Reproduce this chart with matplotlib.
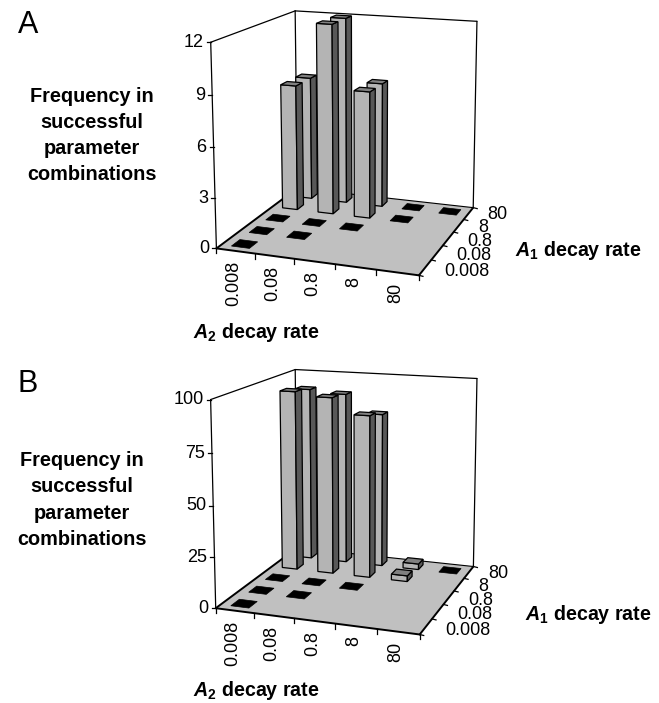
'''
Two 3D style bar charts of parameter
combination frequencies, drawn with a
projection from (A2,A1,height) to the page
'''

######################################

import numpy as np
import matplotlib
matplotlib.use('Agg')
import matplotlib.pyplot as plt
from matplotlib.patches import Polygon

######################################

nan=np.nan

decayLabels=['0.008','0.08','0.8','8','80']

# rows are A2 decay rate, columns A1 decay rate, nan means no bar
freqA=[[0,0,0,8,8],
       [nan,0,0,12,12],
       [nan,nan,0,8,8],
       [nan,nan,nan,0,0],
       [nan,nan,nan,nan,0]]
ticksA=[0,3,6,9,12]

freqB=[[0,0,0,94,92],
       [nan,0,0,92,90.5],
       [nan,nan,0,84,81],
       [nan,nan,nan,3,3],
       [nan,nan,nan,nan,0]]
ticksB=[0,25,50,75,100]

# where the corners of the box land on the page (pixels)
cornersA={(0,0,0):(217.7,248.3),(5,0,0):(418.3,276.0),(5,5,0):(474.0,206.7),(0,5,0):(296.0,188.5),
          (0,0,1):(210.0,41.7),(0,5,1):(296.0,11.0),(5,5,1):(476.7,21.7)}
cornersB={(0,0,0):(216.7,607.3),(5,0,0):(419.3,635.7),(5,5,0):(474.0,565.0),(0,5,0):(296.0,549.0),
          (0,0,1):(210.0,399.3),(0,5,1):(296.0,369.3),(5,5,1):(476.7,379.0)}

frontCol='#b4b4b4'
sideCol='#585858'
topCol='#808080'
floorCol='#c0c0c0'
barWidth=0.42
zeroWidth=0.47

plt.rcParams['font.family']=['Liberation Sans','DejaVu Sans']
plt.rcParams['mathtext.fontset']='custom'
plt.rcParams['mathtext.rm']='Liberation Sans:bold'
plt.rcParams['mathtext.bf']='Liberation Sans:bold'
plt.rcParams['mathtext.it']='Liberation Sans:italic:bold'

######################################

class boxProjection():
  '''Camera matrix fitted to the box corners'''

  ####################################

  def __init__(self,corners):
    '''Solve for the 3x4 matrix by least squares'''
    rows=[]
    for (x,y,z),(u,v) in corners.items():
      rows.append([x,y,z,1,0,0,0,0,-u*x,-u*y,-u*z,-u])
      rows.append([0,0,0,0,x,y,z,1,-v*x,-v*y,-v*z,-v])
    self.P=np.linalg.svd(np.array(rows))[2][-1].reshape(3,4)
    return

  ####################################

  def __call__(self,x,y,z):
    '''Project one point onto the page'''
    u,v,w=self.P@np.array([x,y,z,1.0])
    return (u/w,v/w)


######################################

def drawPanel(ax,freq,zTicks,corners):
  '''Draw the floor, frame, ticks and bars of one panel'''
  proj=boxProjection(corners)
  zMax=zTicks[-1]
  nX=len(decayLabels)
  nY=len(decayLabels)

  # floor and frame
  floor=[proj(0,0,0),proj(nX,0,0),proj(nX,nY,0),proj(0,nY,0)]
  ax.add_patch(Polygon(floor,closed=True,fc=floorCol,ec='none',zorder=1))
  edges=[((0,0,0),(nX,0,0),1.4),((nX,0,0),(nX,nY,0),1.4),((0,0,0),(0,nY,0),1.4),((0,nY,0),(nX,nY,0),0.8),
         ((0,0,0),(0,0,1),0.9),((0,nY,0),(0,nY,1),0.9),((nX,nY,0),(nX,nY,1),0.9),
         ((0,0,1),(0,nY,1),0.9),((0,nY,1),(nX,nY,1),0.9)]
  for a,b,lw in edges:
    pa,pb=proj(*a),proj(*b)
    ax.plot([pa[0],pb[0]],[pa[1],pb[1]],color='black',lw=lw,zorder=2,solid_capstyle='round')

  # height axis
  for t in zTicks:
    u,v=proj(0,0,t/zMax)
    ax.plot([u-4,u],[v,v],color='black',lw=0.9,zorder=2)
    ax.text(u-7,v,str(t),ha='right',va='center',fontsize=13,zorder=5)

  # A2 axis
  for i in range(nX+1):
    u,v=proj(i,0,0)
    ax.plot([u,u],[v,v+5],color='black',lw=0.9,zorder=2)
  for i,lab in enumerate(decayLabels):
    u,v=proj(i+0.5,0,0)
    ax.text(u-2,v+10,lab,rotation=90,ha='center',va='top',fontsize=13,zorder=5)

  # A1 axis
  for j in range(nY+1):
    u,v=proj(nX,j,0)
    ax.plot([u,u+4],[v,v+1],color='black',lw=0.9,zorder=2)
  for j,lab in enumerate(decayLabels):
    u,v=proj(nX,j+0.5,0)
    ax.text(u+19,v+1+0.8*(nY-1-j),lab,ha='left',va='center',fontsize=13,zorder=5)

  # bars, back to front
  z=3
  for j in range(nY-1,-1,-1):
    for i in range(nX):
      val=freq[i][j]
      if(np.isnan(val)):
        continue
      wid=zeroWidth if val==0 else barWidth
      x0,x1=i+0.5-wid/2,i+0.5+wid/2
      y0,y1=j+0.5-wid/2,j+0.5+wid/2
      h=val/zMax
      top=[proj(x0,y0,h),proj(x1,y0,h),proj(x1,y1,h),proj(x0,y1,h)]
      if(val==0):
        ax.add_patch(Polygon(top,closed=True,fc='black',ec='black',lw=0.5,zorder=z))
      else:
        front=[proj(x0,y0,0),proj(x1,y0,0),proj(x1,y0,h),proj(x0,y0,h)]
        side=[proj(x1,y0,0),proj(x1,y1,0),proj(x1,y1,h),proj(x1,y0,h)]
        ax.add_patch(Polygon(front,closed=True,fc=frontCol,ec='black',lw=0.9,zorder=z))
        ax.add_patch(Polygon(side,closed=True,fc=sideCol,ec='black',lw=0.9,zorder=z))
        ax.add_patch(Polygon(top,closed=True,fc=topCol,ec='black',lw=0.9,zorder=z))
      z+=0.01
  return

######################################

fig=plt.figure(figsize=(6.59,7.03),dpi=100)
ax=fig.add_axes([0,0,1,1])
ax.set_xlim(0,659)
ax.set_ylim(703,0)
ax.axis('off')

drawPanel(ax,freqA,ticksA,cornersA)
drawPanel(ax,freqB,ticksB,cornersB)

# panel letters
ax.text(18,25,'A',fontsize=22,ha='left',va='center')
ax.text(17,384,'B',fontsize=22,ha='left',va='center')

# axis titles
yTitle='Frequency in\nsuccessful\nparameter\ncombinations'
ax.text(92,135.5,yTitle,ha='center',va='center',fontsize=14.3,fontweight='bold',linespacing=1.47)
ax.text(82,500,yTitle,ha='center',va='center',fontsize=14.3,fontweight='bold',linespacing=1.47)

a1Title=r'$\mathit{A}_{\mathbf{1}}$ decay rate'
a2Title=r'$\mathit{A}_{\mathbf{2}}$ decay rate'
ax.text(515,250,a1Title,ha='left',va='center',fontsize=14.1,fontweight='bold')
ax.text(193,333,a2Title,ha='left',va='center',fontsize=14.1,fontweight='bold')
ax.text(525,615,a1Title,ha='left',va='center',fontsize=14.1,fontweight='bold')
ax.text(193,690,a2Title,ha='left',va='center',fontsize=14.1,fontweight='bold')

fig.savefig('out.png',dpi=100)
